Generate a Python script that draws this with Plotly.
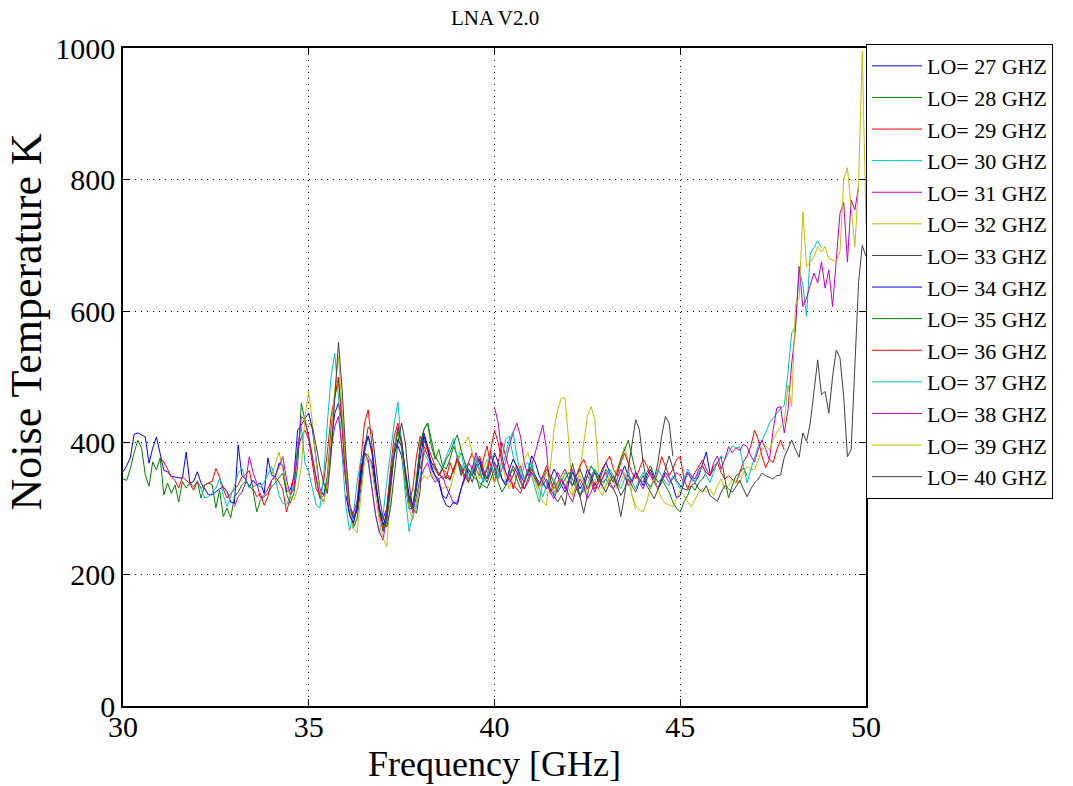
import plotly.graph_objects as go

# Noise temperature (K) of LNA V2.0 measured per LO setting, 0.1 GHz frequency step
step_ghz = 0.1
lo_ghz = [27, 28, 29, 30, 31, 32, 33, 34, 35, 36, 37, 38, 39, 40]
start_ghz = [30.0, 30.0, 31.0, 32.0, 33.0, 34.0, 35.0, 36.0, 37.0, 38.0, 39.0, 40.0, 41.0, 42.0]

lo27 = [356, 365, 378, 413, 415, 412, 409, 369, 392, 409,
        384, 358, 356, 349, 348, 347, 346, 386, 339, 341,
        356, 339, 330, 321, 321, 326, 330, 333, 326, 310,
        308, 397, 350, 345, 333, 343, 336, 339, 323, 377,
        351, 348, 369, 366, 326, 328, 348, 419, 427, 437,
        445, 420, 370, 330, 320, 340, 400, 445, 460, 430,
        350, 300, 285, 300, 360, 385, 380, 370, 330, 300,
        285, 300, 350, 390, 395, 380, 335, 300, 300, 330,
        375, 410, 390, 360, 350, 345, 320, 315, 330]
lo28 = [345, 343, 361, 385, 404, 392, 351, 334, 371, 359,
        377, 321, 339, 323, 336, 310, 341, 331, 339, 333,
        341, 316, 336, 339, 336, 301, 328, 288, 301, 286,
        318, 325, 336, 341, 335, 328, 295, 313, 318, 323,
        333, 339, 347, 354, 323, 308, 323, 364, 460, 435,
        410, 380, 345, 315, 320, 350, 420, 470, 495, 440,
        360, 300, 270, 285, 330, 385, 410, 390, 340, 300,
        265, 280, 330, 395, 415, 400, 345, 305, 300, 335,
        400, 420, 430, 395, 375, 390, 365, 360, 375, 395,
        380, 355, 360, 340, 365, 350, 330, 345, 360]
lo29 = [376, 371, 360, 348, 343, 331, 348, 343, 338, 328,
        341, 331, 336, 339, 341, 361, 348, 330, 316, 323,
        330, 336, 348, 352, 358, 330, 318, 323, 305, 318,
        343, 348, 340, 330, 295, 316, 351, 389, 409, 419,
        405, 370, 330, 320, 340, 385, 440, 470, 500, 420,
        340, 290, 275, 310, 370, 430, 450, 400, 340, 290,
        268, 300, 360, 410, 430, 405, 350, 310, 330, 380,
        410, 395, 380, 370, 365, 350, 360, 345, 370, 355,
        380, 360, 345, 370, 385, 360, 350, 375, 395, 365,
        340, 370, 400, 380, 360, 330, 350, 365, 345]
lo30 = [343, 330, 316, 318, 325, 331, 346, 320, 303, 318,
        335, 353, 361, 345, 331, 333, 336, 333, 340, 351,
        364, 345, 320, 308, 306, 318, 336, 394, 424, 369,
        356, 330, 305, 301, 350, 430, 500, 536, 470, 380,
        303, 267, 290, 340, 374, 385, 370, 330, 290, 263,
        290, 340, 384, 430, 462, 390, 320, 265, 290, 303,
        350, 384, 375, 365, 359, 350, 365, 380, 395, 407,
        375, 360, 370, 345, 360, 380, 355, 340, 365, 385,
        370, 350, 375, 405, 410, 380, 360, 345, 365, 370,
        350, 330, 310, 340, 355, 345, 320, 335, 350]
lo31 = [303, 318, 325, 339, 379, 355, 339, 316, 320, 330,
        343, 350, 364, 379, 345, 321, 330, 389, 440, 435,
        410, 375, 345, 320, 310, 340, 390, 425, 440, 390,
        340, 300, 293, 310, 350, 384, 375, 330, 290, 265,
        252, 290, 340, 390, 424, 400, 360, 320, 293, 320,
        345, 360, 370, 350, 340, 345, 350, 333, 320, 308,
        310, 330, 350, 370, 360, 385, 370, 350, 360, 380,
        365, 345, 360, 370, 395, 415, 430, 410, 370, 350,
        365, 385, 405, 427, 390, 323, 340, 355, 345, 330,
        345, 360, 335, 318, 330, 350, 340, 325, 340]
lo32 = [350, 370, 386, 360, 335, 320, 313, 330, 364, 440,
        478, 430, 370, 325, 308, 340, 410, 480, 531, 450,
        360, 300, 270, 263, 320, 370, 384, 360, 320, 280,
        255, 242, 320, 390, 419, 390, 340, 300, 283, 310,
        340, 350, 345, 353, 345, 340, 330, 335, 330, 350,
        375, 395, 400, 409, 385, 360, 345, 360, 375, 350,
        340, 355, 370, 345, 330, 350, 365, 359, 375, 385,
        365, 340, 320, 310, 305, 360, 420, 450, 468, 468,
        400, 318, 335, 359, 400, 440, 455, 435, 359, 330,
        335, 345, 340, 360, 375, 394, 370, 320, 298]
lo33 = [430, 424, 395, 364, 340, 323, 380, 470, 553, 480,
        380, 308, 288, 295, 340, 390, 424, 419, 370, 320,
        285, 272, 300, 350, 400, 430, 400, 340, 300, 293,
        328, 404, 390, 370, 360, 355, 345, 350, 343, 360,
        375, 350, 365, 355, 340, 360, 370, 350, 340, 355,
        370, 360, 345, 340, 350, 365, 355, 340, 330, 345,
        360, 350, 340, 335, 345, 330, 320, 310, 320, 305,
        340, 369, 345, 320, 293, 320, 345, 360, 350, 340,
        345, 335, 330, 318, 288, 320, 360, 400, 435, 420,
        370, 340, 333, 345, 370, 410, 440, 430, 380]
lo34 = [320, 290, 278, 300, 350, 395, 410, 385, 340, 300,
        275, 290, 335, 380, 405, 395, 355, 320, 305, 340,
        390, 415, 395, 365, 350, 340, 318, 305, 302, 310,
        306, 330, 345, 360, 350, 365, 375, 355, 345, 360,
        385, 370, 345, 335, 360, 375, 365, 350, 340, 355,
        380, 370, 350, 340, 330, 345, 360, 350, 335, 325,
        340, 355, 345, 330, 340, 360, 350, 335, 345, 360,
        370, 355, 345, 335, 350, 365, 350, 340, 355, 345,
        335, 350, 360, 345, 330, 340, 355, 348, 335, 316,
        320, 340, 355, 345, 340, 350, 370, 386, 354]
lo35 = [270, 285, 330, 385, 419, 400, 350, 310, 300, 345,
        395, 420, 430, 405, 380, 370, 360, 375, 385, 400,
        412, 390, 370, 360, 350, 345, 339, 335, 331, 345,
        360, 340, 325, 335, 350, 360, 345, 330, 340, 355,
        365, 350, 335, 345, 360, 350, 340, 325, 335, 345,
        355, 345, 330, 320, 335, 350, 365, 355, 340, 345,
        360, 350, 340, 355, 375, 389, 404, 380, 355, 345,
        340, 355, 365, 350, 340, 345, 335, 325, 310, 300,
        295, 310, 320, 335, 328, 340, 345, 355, 350, 360,
        370, 379, 345, 316, 335, 350, 354, 362, 350]
lo36 = [360, 385, 395, 380, 365, 350, 360, 355, 345, 360,
        375, 365, 350, 340, 355, 370, 380, 360, 345, 390,
        419, 400, 370, 355, 345, 335, 330, 323, 340, 360,
        355, 345, 335, 350, 365, 345, 330, 340, 350, 360,
        345, 335, 350, 365, 375, 360, 345, 330, 340, 355,
        370, 380, 360, 350, 370, 384, 370, 355, 345, 360,
        375, 365, 350, 340, 355, 379, 365, 350, 360, 375,
        379, 345, 330, 345, 355, 365, 374, 360, 350, 365,
        370, 355, 345, 350, 345, 339, 355, 371, 380, 395,
        419, 405, 380, 362, 375, 370, 390, 404, 389]
lo37 = [370, 385, 360, 345, 355, 375, 360, 340, 350, 365,
        355, 345, 360, 385, 405, 417, 380, 355, 345, 360,
        370, 345, 330, 318, 335, 350, 345, 330, 340, 355,
        345, 335, 350, 340, 325, 335, 350, 360, 345, 335,
        345, 360, 350, 340, 330, 345, 355, 340, 330, 345,
        355, 340, 330, 345, 360, 350, 340, 335, 350, 340,
        330, 345, 360, 350, 340, 355, 365, 350, 340, 355,
        370, 380, 375, 385, 395, 392, 394, 365, 339, 360,
        379, 395, 404, 415, 430, 438, 445, 452, 457, 506,
        567, 576, 663, 640, 592, 688, 697, 707, 697]
lo38 = [454, 430, 380, 355, 340, 350, 365, 345, 330, 340,
        355, 345, 335, 350, 340, 325, 315, 330, 345, 335,
        320, 310, 330, 345, 335, 315, 325, 340, 330, 345,
        355, 340, 330, 345, 360, 350, 335, 345, 355, 340,
        330, 345, 355, 340, 330, 345, 350, 340, 345, 355,
        350, 340, 355, 350, 345, 360, 365, 355, 350, 370,
        380, 360, 375, 394, 385, 392, 388, 398, 394, 380,
        371, 390, 404, 390, 374, 420, 453, 455, 415, 450,
        520, 571, 668, 607, 620, 640, 658, 643, 675, 635,
        663, 607, 680, 749, 765, 675, 769, 754, 789]
lo39 = [350, 340, 330, 345, 355, 340, 325, 335, 350, 345,
        330, 320, 335, 350, 340, 325, 335, 345, 330, 320,
        335, 350, 345, 330, 340, 355, 345, 320, 305, 298,
        295, 310, 335, 345, 330, 315, 308, 305, 303, 315,
        328, 320, 310, 303, 315, 325, 331, 325, 330, 320,
        335, 345, 330, 335, 343, 340, 339, 355, 364, 360,
        359, 375, 389, 395, 389, 404, 416, 424, 430, 488,
        455, 609, 620, 751, 668, 675, 683, 698, 690, 698,
        680, 678, 675, 690, 800, 818, 760, 698, 795, 995,
        734]
lo40 = [345, 335, 350, 360, 345, 330, 340, 355, 345, 335,
        325, 340, 350, 335, 320, 330, 345, 335, 325, 340,
        350, 335, 325, 315, 330, 345, 360, 380, 360, 343,
        335, 330, 328, 335, 339, 330, 325, 335, 320, 315,
        311, 325, 335, 330, 325, 333, 343, 330, 318, 330,
        339, 345, 354, 350, 348, 345, 350, 351, 378, 390,
        404, 390, 378, 415, 402, 430, 480, 526, 473, 478,
        445, 500, 541, 529, 470, 379, 389, 520, 643, 700,
        683]

noise_temps = [lo27, lo28, lo29, lo30, lo31, lo32, lo33,
               lo34, lo35, lo36, lo37, lo38, lo39, lo40]

# MATLAB-style line colour cycle (b, g, r, c, m, y, k)
line_colors = ["rgb(0,0,255)", "rgb(0,128,0)", "rgb(255,0,0)", "rgb(0,191,191)",
               "rgb(191,0,191)", "rgb(191,191,0)", "rgb(64,64,64)"]

x_ticks = [30, 35, 40, 45, 50]
y_ticks = [0, 200, 400, 600, 800, 1000]

serif = "Liberation Serif, Times New Roman, serif"

fig = go.Figure()
for i, (lo, f0, temps) in enumerate(zip(lo_ghz, start_ghz, noise_temps)):
    freqs = [round(f0 + step_ghz * k, 1) for k in range(len(temps))]
    fig.add_trace(go.Scatter(
        x=freqs, y=temps, mode="lines",
        name=f"LO= {lo} GHZ",
        line=dict(color=line_colors[i % len(line_colors)], width=1),
    ))

axis_common = dict(
    showline=True, linecolor="black", linewidth=1.5, mirror="ticks",
    ticks="inside", ticklen=7, tickwidth=1, tickcolor="black",
    showgrid=True, gridcolor="black", gridwidth=1, griddash="1px,5px",
    zeroline=False, tickfont=dict(family=serif, size=30, color="black"),
)

fig.update_layout(
    width=1073, height=786,
    margin=dict(l=123, r=207, t=48, b=80, autoexpand=False),
    paper_bgcolor="white", plot_bgcolor="white",
    font=dict(family=serif, color="black"),
    showlegend=True,
    legend=dict(
        x=1.0, xanchor="left", y=1.006, yanchor="top",
        bordercolor="black", borderwidth=1, bgcolor="white",
        font=dict(family=serif, size=22, color="black"),
        itemwidth=50, maxheight=1.0,
    ),
    xaxis=dict(range=[30, 50], tickvals=x_ticks, ticktext=[str(t) for t in x_ticks],
               ticklabelstandoff=-7, **axis_common),
    yaxis=dict(range=[0, 1000], tickvals=y_ticks, ticktext=[str(t) for t in y_ticks],
               **axis_common),
    annotations=[
        dict(text="LNA V2.0", xref="paper", yref="paper", x=0.5, y=1.045,
             xanchor="center", yanchor="middle", showarrow=False,
             font=dict(family=serif, size=21, color="black")),
        dict(text="Frequency [GHz]", xref="paper", yref="paper", x=0.5, y=-0.1216,
             xanchor="center", yanchor="bottom", showarrow=False,
             font=dict(family=serif, size=36, color="black")),
        dict(text="Noise Temperature K", xref="paper", yref="paper", x=-0.13, y=0.585,
             xanchor="center", yanchor="middle", textangle=-90, showarrow=False,
             font=dict(family=serif, size=44, color="black")),
    ],
)

fig.write_html("out.html")
